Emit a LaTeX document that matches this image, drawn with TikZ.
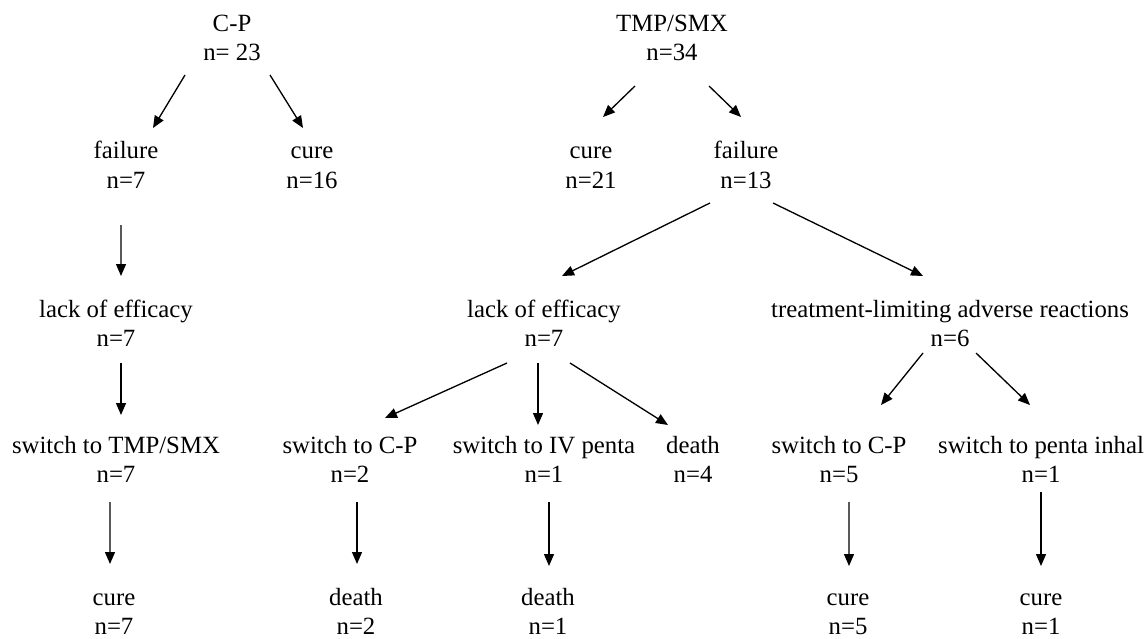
\documentclass[tikz,border=0pt]{standalone}
\usepackage{fontspec}
\setmainfont{Liberation Serif}
\usepackage{tikz}
\usetikzlibrary{arrows.meta,positioning}

\begin{document}
\begin{tikzpicture}[
	lbl/.style={align=center,inner sep=0pt,font=\fontsize{14.1pt}{16.8pt}\selectfont},
	arr/.style={-{Triangle[length=0.24cm,width=0.2cm]},line width=0.75pt}]
	\useasboundingbox (0,0) rectangle (22.9,-12.76);
	% C-P tree
	\node[lbl] (cp) at (4.64,-0.80) {\strut C-P\\n= 23\strut};
	\node[lbl] (fail1) at (2.52,-3.35) {\strut failure\\n=7\strut};
	\node[lbl] (cure1) at (6.24,-3.35) {\strut cure\\n=16\strut};
	\node[lbl] (lack1) at (2.32,-6.52) {\strut lack of efficacy\\n=7\strut};
	\node[lbl] (sw1) at (2.32,-9.24) {\strut switch to TMP/SMX\\n=7\strut};
	\node[lbl] (cure2) at (2.28,-12.28) {\strut cure\\n=7\strut};
	% TMP/SMX tree
	\node[lbl] (tmp) at (13.44,-0.80) {\strut TMP/SMX\\n=34\strut};
	\node[lbl] (cure3) at (11.82,-3.35) {\strut cure\\n=21\strut};
	\node[lbl] (fail2) at (14.92,-3.35) {\strut failure\\n=13\strut};
	\node[lbl] (lack2) at (10.88,-6.52) {\strut lack of efficacy\\n=7\strut};
	\node[lbl] (treat) at (19.00,-6.52) {\strut treatment-limiting adverse reactions\\n=6\strut};
	\node[lbl] (swcp1) at (7.00,-9.24) {\strut switch to C-P\\n=2\strut};
	\node[lbl] (swiv) at (10.88,-9.24) {\strut switch to IV penta\\n=1\strut};
	\node[lbl] (death1) at (13.86,-9.24) {\strut death\\n=4\strut};
	\node[lbl] (swcp2) at (16.78,-9.24) {\strut switch to C-P\\n=5\strut};
	\node[lbl] (swpi) at (20.82,-9.24) {\strut switch to penta inhal\\n=1\strut};
	\node[lbl] (death2) at (7.12,-12.28) {\strut death\\n=2\strut};
	\node[lbl] (death3) at (10.96,-12.28) {\strut death\\n=1\strut};
	\node[lbl] (cure4) at (16.96,-12.28) {\strut cure\\n=5\strut};
	\node[lbl] (cure5) at (20.82,-12.28) {\strut cure\\n=1\strut};
	% arrows, left tree
	\draw[arr] ([shift={(-0.94,-0.70)}]cp.center) -- ([shift={(0.54,0.79)}]fail1.center);
	\draw[arr] ([shift={(0.76,-0.70)}]cp.center) -- ([shift={(-0.18,0.79)}]cure1.center);
	\draw[arr] ([shift={(-0.10,-1.15)}]fail1.center) -- ([shift={(0.10,1.00)}]lack1.center);
	\draw[arr] ([shift={(0.10,-0.74)}]lack1.center) -- ([shift={(0.10,0.94)}]sw1.center);
	\draw[arr] ([shift={(-0.12,-0.80)}]sw1.center) -- ([shift={(-0.08,1.00)}]cure2.center);
	% arrows, right tree
	\draw[arr] ([shift={(-0.74,-0.92)}]tmp.center) -- ([shift={(0.24,1.01)}]cure3.center);
	\draw[arr] ([shift={(0.74,-0.92)}]tmp.center) -- ([shift={(-0.10,1.01)}]fail2.center);
	\draw[arr] ([shift={(-0.72,-0.71)}]fail2.center) -- ([shift={(0.36,1.00)}]lack2.center);
	\draw[arr] ([shift={(0.54,-0.71)}]fail2.center) -- ([shift={(-0.54,1.00)}]treat.center);
	\draw[arr] ([shift={(-0.74,-0.74)}]lack2.center) -- ([shift={(0.70,0.88)}]swcp1.center);
	\draw[arr] ([shift={(-0.12,-0.74)}]lack2.center) -- ([shift={(-0.12,0.74)}]swiv.center);
	\draw[arr] ([shift={(0.52,-0.74)}]lack2.center) -- ([shift={(-0.50,0.74)}]death1.center);
	\draw[arr] ([shift={(-0.54,-0.54)}]treat.center) -- ([shift={(0.84,1.14)}]swcp2.center);
	\draw[arr] ([shift={(0.52,-0.54)}]treat.center) -- ([shift={(-0.22,1.14)}]swpi.center);
	\draw[arr] ([shift={(0.14,-0.80)}]swcp1.center) -- ([shift={(0.02,1.00)}]death2.center);
	\draw[arr] ([shift={(0.10,-0.80)}]swiv.center) -- ([shift={(0.02,0.96)}]death3.center);
	\draw[arr] ([shift={(0.20,-0.80)}]swcp2.center) -- ([shift={(0.02,0.96)}]cure4.center);
	\draw[arr] ([shift={(0,-0.60)}]swpi.center) -- ([shift={(0,0.96)}]cure5.center);
\end{tikzpicture}
\end{document}
